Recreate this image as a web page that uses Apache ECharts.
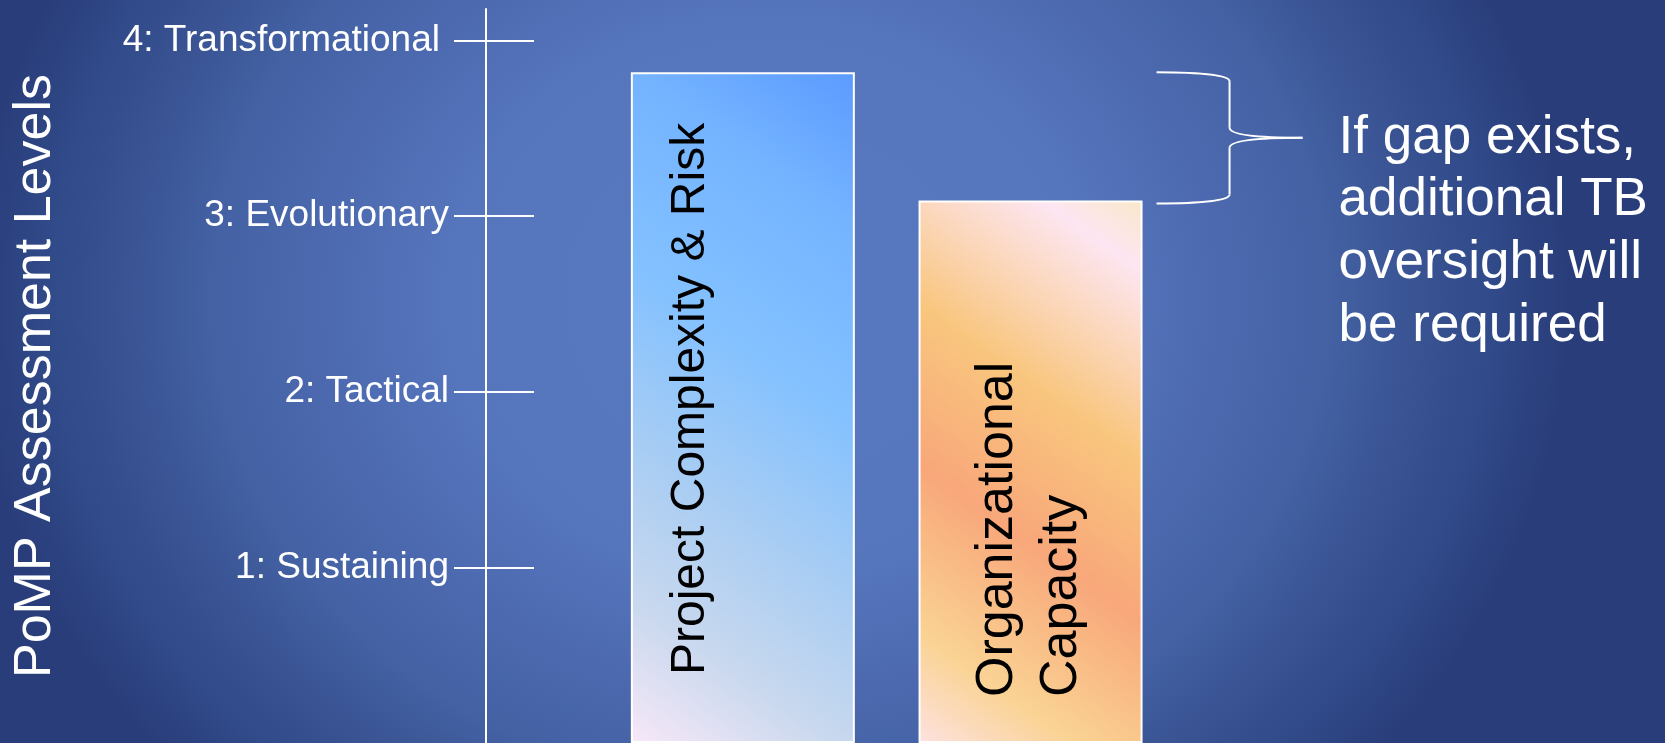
<!DOCTYPE html>
<html>
<head>
<meta charset="utf-8">
<script src="https://cdn.jsdelivr.net/npm/echarts@6/dist/echarts.min.js"></script>
<style>
html, body { margin: 0; padding: 0; width: 1665px; height: 743px; overflow: hidden; }
#chart {
  width: 1665px; height: 743px;
  background: radial-gradient(800px 700px at 770px 300px,
    #5879c1 0%, #5575bc 40%, #4c69af 57%, #4361a3 70%, #3a5494 80%, #314a89 90%, #293d7a 100%);
}
</style>
</head>
<body>
<div id="chart"></div>
<script>
// ---- data ----
const categories = ['Project Complexity & Risk', 'Organizational\nCapacity'];
const levelValues = [3.82, 3.09];
const tickValues = [1, 2, 3, 4];
const tickLabels = ['1: Sustaining', '2: Tactical', '3: Evolutionary', '4: Transformational'];
const axisTitle = 'PoMP Assessment Levels';
const gapNote = 'If gap exists,\nadditional TB\noversight will\nbe required';

// ---- styles ----
const FONT = "'Liberation Sans', Arial, sans-serif";
const BAR_WIDTH = 224;
const barGradients = [
  { type: 'linear', x: 1, y: 0, x2: -0.74, y2: 0.83, colorStops: [
    { offset: 0, color: '#5c9aff' },
    { offset: 0.19, color: '#74b4ff' },
    { offset: 0.42, color: '#83c1ff' },
    { offset: 0.64, color: '#a9cdf3' },
    { offset: 0.82, color: '#c8d8ee' },
    { offset: 1, color: '#f8e8f8' }
  ]},
  { type: 'linear', x: 1, y: 0, x2: -0.47, y2: 0.87, colorStops: [
    { offset: 0, color: '#f9e7c9' },
    { offset: 0.1, color: '#fde6f2' },
    { offset: 0.37, color: '#f9c67e' },
    { offset: 0.6, color: '#f8a77a' },
    { offset: 0.84, color: '#fad394' },
    { offset: 1, color: '#fde2e2' }
  ]}
];
// label offsets are in the label's rotated frame: [along text, across text]
const labelStyles = [
  { fontSize: 48, lineHeight: 58, distance: 68, offset: [0, -52] },
  { fontSize: 52, lineHeight: 63.5, distance: 46, offset: [0, -1] }
];

const chart = echarts.init(document.getElementById('chart'), null, { renderer: 'canvas' });

const option = {
  backgroundColor: 'transparent',
  animation: false,
  grid: { left: 599, right: 490.6, top: 9, bottom: 0, containLabel: false, outerBoundsMode: 'none' },
  xAxis: {
    type: 'category',
    data: categories,
    show: false
  },
  yAxis: [
    {
      type: 'value', min: 0, max: 4.18, interval: 1,
      position: 'left', offset: 113,
      axisLine: { show: true, lineStyle: { color: '#ffffff', width: 2 } },
      axisTick: { show: true, inside: false, length: 32, customValues: tickValues,
                  lineStyle: { color: '#ffffff', width: 2 } },
      axisLabel: {
        show: true, customValues: tickValues, margin: 37,
        color: '#ffffff', fontSize: 37, fontFamily: FONT,
        formatter: v => {
          const i = tickValues.indexOf(Math.round(v));
          if (i < 0) return '';
          return i === tickValues.length - 1 ? '{pad|' + tickLabels[i] + '}' : tickLabels[i];
        },
        rich: { pad: { color: '#ffffff', fontSize: 37, fontFamily: FONT, padding: [0, 9, 0, 0] } }
      },
      splitLine: { show: false },
      name: axisTitle, nameLocation: 'middle', nameRotate: 90, nameGap: 424,
      nameTextStyle: { color: '#ffffff', fontSize: 52, fontFamily: FONT }
    },
    {
      type: 'value', min: 0, max: 4.18, interval: 1,
      position: 'left', offset: 113,
      axisLine: { show: false },
      axisTick: { show: true, inside: true, length: 48, customValues: tickValues,
                  lineStyle: { color: '#ffffff', width: 2 } },
      axisLabel: { show: false },
      splitLine: { show: false }
    }
  ],
  series: [{
    type: 'bar',
    yAxisIndex: 0,
    barWidth: BAR_WIDTH,
    data: levelValues.map((v, i) => ({
      value: v,
      itemStyle: { color: barGradients[i], borderColor: '#ffffff', borderWidth: 2 },
      label: {
        show: true,
        formatter: '{b}',
        position: 'insideBottom',
        rotate: 90,
        align: 'left',
        verticalAlign: 'middle',
        color: '#000000',
        fontFamily: FONT,
        fontSize: labelStyles[i].fontSize,
        lineHeight: labelStyles[i].lineHeight,
        distance: labelStyles[i].distance,
        offset: labelStyles[i].offset
      }
    }))
  }]
};
chart.setOption(option);

// brace + note placed from the bar values via the chart's own scales
const pTop = chart.convertToPixel({ seriesIndex: 0 }, [1, levelValues[0]]);
const pBot = chart.convertToPixel({ seriesIndex: 0 }, [1, levelValues[1]]);
const x0 = pTop[0] + BAR_WIDTH / 2 + 14;
const yt = pTop[1];
const yb = pBot[1] + 3;
const xs = x0 + 73, xt = x0 + 146, ym = (yt + yb) / 2;
const braceStyle = { stroke: '#ffffff', lineWidth: 2, fill: 'none' };
const curve = (x1, y1, cx1, cy1, cx2, cy2, x2, y2) => ({
  type: 'bezierCurve',
  shape: { x1, y1, cpx1: cx1, cpy1: cy1, cpx2: cx2, cpy2: cy2, x2, y2 },
  style: braceStyle
});
const seg = (x1, y1, x2, y2) => ({ type: 'line', shape: { x1, y1, x2, y2 }, style: braceStyle });

chart.setOption({
  graphic: [
    curve(x0, yt, x0 + 45, yt, xs, yt + 3, xs, yt + 9),
    seg(xs, yt + 9, xs, ym - 10),
    curve(xs, ym - 10, xs, ym - 4, xs + 20, ym, xt, ym),
    curve(xt, ym, xs + 20, ym, xs, ym + 4, xs, ym + 10),
    seg(xs, ym + 10, xs, yb - 9),
    curve(xs, yb - 9, xs, yb - 3, x0 + 45, yb, x0, yb),
    {
      type: 'text',
      x: xt + 36,
      y: ym - 31,
      style: {
        text: gapNote,
        fill: '#ffffff',
        font: `53px ${FONT}`,
        lineHeight: 62.7,
        align: 'left',
        verticalAlign: 'top'
      }
    }
  ]
});
</script>
</body>
</html>
